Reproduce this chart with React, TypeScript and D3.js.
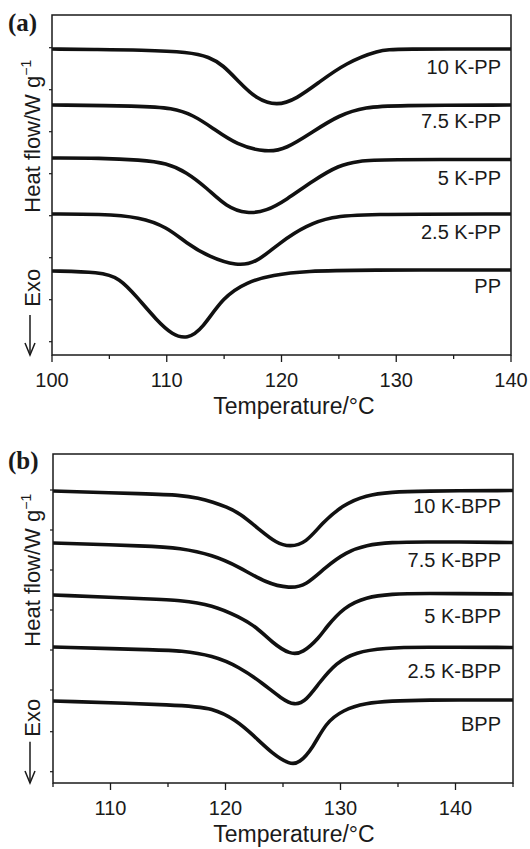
import React from "react";
import * as d3 from "d3";

// ---------- Data ----------
// Panel (a): temperature (°C) vs relative heat flow (arbitrary offset units)
const seriesNamesA = ["10 K-PP", "7.5 K-PP", "5 K-PP", "2.5 K-PP", "PP"];
const kpp10: [number, number][] = [
  [100, 30.6], [104, 30.55], [107.7, 30.5], [112, 30.3], [113.7, 29.8], [114.9, 29.0],
  [116.3, 27.3], [117.8, 25.6], [119.6, 24.9], [121.3, 25.6], [123.3, 27.3], [125.6, 29.2],
  [128.5, 30.5], [130, 30.6], [140, 30.6],
];
const kpp75: [number, number][] = [
  [100, 25.0], [107.7, 24.9], [110.5, 24.7], [112.3, 24.0], [114.0, 22.7], [116.1, 21.0],
  [118.7, 20.25], [120.4, 20.6], [122.7, 22.3], [125.0, 24.0], [127.4, 24.8], [129.7, 24.95],
  [140, 25.0],
];
const kpp5: [number, number][] = [
  [100, 19.7], [104.2, 19.7], [107.7, 19.5], [110, 19.2], [111.7, 18.3], [113.5, 16.7],
  [115.2, 14.8], [117.0, 14.1], [118.7, 14.4], [120.4, 15.5], [122.7, 17.4], [125.0, 19.0],
  [126.8, 19.4], [128.5, 19.55], [140, 19.55],
];
const kpp25: [number, number][] = [
  [100, 14.1], [104.2, 14.1], [107.7, 13.8], [110, 12.8], [111.7, 11.2], [113.7, 9.8],
  [116.1, 8.9], [117.8, 9.2], [119.8, 11.2], [122.2, 13.0], [124.4, 13.8], [126.8, 14.1],
  [140, 14.1],
];
const pp: [number, number][] = [
  [100, 8.4], [104.2, 8.3], [105.9, 7.7], [107.4, 5.8], [109.1, 3.5], [110.5, 2.0],
  [111.8, 1.6], [113.1, 2.6], [114.9, 5.8], [117.0, 7.3], [119.2, 8.0], [122.2, 8.4],
  [126.8, 8.5], [140, 8.5],
];

// Panel (b)
const seriesNamesB = ["10 K-BPP", "7.5 K-BPP", "5 K-BPP", "2.5 K-BPP", "BPP"];
const kbpp10: [number, number][] = [
  [105, 29.2], [113.4, 28.9], [116.0, 28.8], [117.7, 28.5], [118.9, 28.1], [120.1, 27.6],
  [121.2, 27.0], [123.0, 25.3], [124.4, 24.0], [125.6, 23.6], [127.0, 24.0], [128.4, 26.0],
  [130.2, 27.8], [132.2, 28.8], [134.5, 29.1], [136.8, 29.2], [145, 29.25],
];
const kbpp75: [number, number][] = [
  [105, 24.0], [113.4, 23.7], [116.0, 23.5], [118.9, 22.8], [121.2, 21.6], [123.5, 20.0],
  [125.6, 19.45], [127.0, 19.75], [128.7, 21.6], [130.5, 23.1], [132.2, 23.8], [134.5, 24.07],
  [136.8, 24.13], [145, 24.05],
];
const kbpp5: [number, number][] = [
  [105, 18.8], [113.4, 18.4], [116.0, 18.3], [118.9, 17.8], [121.2, 16.6], [122.7, 15.6],
  [124.1, 14.0], [125.6, 12.85], [126.7, 12.95], [128.2, 14.6], [128.7, 15.5], [130.3, 17.6],
  [132.2, 18.6], [134.5, 18.9], [136.8, 18.97], [145, 18.9],
];
const kbpp25: [number, number][] = [
  [105, 13.6], [114.3, 13.3], [116.0, 13.25], [118.9, 12.75], [121.2, 11.6], [123.2, 10.0],
  [124.9, 8.4], [126.0, 7.75], [127.0, 8.2], [128.2, 10.1], [129.6, 12.0], [131.3, 13.1],
  [133.9, 13.5], [136.8, 13.6], [145, 13.55],
];
const bpp: [number, number][] = [
  [105, 8.2], [116.3, 7.8], [118.9, 7.5], [120.9, 6.3], [122.4, 4.8], [124.1, 2.9],
  [125.6, 1.85], [126.4, 1.95], [127.6, 3.5], [128.7, 6.0], [130.2, 7.3], [132.2, 8.0],
  [134.5, 8.2], [136.8, 8.3], [145, 8.3],
];

const xTicksA = [100, 105, 110, 115, 120, 125, 130, 135, 140];
const xLabelsA = [100, 110, 120, 130, 140];
const xTicksB = [105, 110, 115, 120, 125, 130, 135, 140, 145];
const xLabelsB = [110, 120, 130, 140];
const yTicksA = [1.33, 5.53, 9.73, 13.93, 18.13, 22.33, 26.53, 30.73];
const yTicksB = [1.13, 5.13, 9.3, 13.3, 17.3, 21.3, 25.3, 29.3];

// ---------- Layout ----------
const FONT = "'Liberation Sans', Arial, Helvetica, sans-serif";

type PanelProps = {
  tag: string;
  x0: number; x1: number; y0: number; y1: number;
  xDomain: [number, number]; yDomain: [number, number];
  series: [number, number][][];
  names: string[];
  labelOffsets: number[];
  xTicks: number[]; xLabels: number[]; yTicks: number[];
  tagY: number;
  heatStart: number; exoStart: number; arrowTop: number;
};

function Panel(p: PanelProps) {
  const x = d3.scaleLinear().domain(p.xDomain).range([p.x0, p.x1]);
  const y = d3.scaleLinear().domain(p.yDomain).range([p.y1, p.y0]);
  const line = d3
    .line<[number, number]>()
    .x((d) => x(d[0]))
    .y((d) => y(d[1]))
    .curve(d3.curveBasis);
  const clipId = "clip-" + p.tag.replace(/[()]/g, "");
  const titleX = 294;
  return (
    <g>
      <defs>
        <clipPath id={clipId}>
          <rect x={p.x0} y={p.y0} width={p.x1 - p.x0} height={p.y1 - p.y0} />
        </clipPath>
      </defs>
      <g clipPath={`url(#${clipId})`}>
        {p.series.map((s, i) => (
          <path key={i} d={line(s) || ""} fill="none" stroke="#111" strokeWidth={3.6} strokeLinejoin="round" />
        ))}
      </g>
      {p.series.map((s, i) => (
        <text
          key={"l" + i}
          x={501}
          y={y(s[s.length - 1][1]) + p.labelOffsets[i]}
          textAnchor="end"
          fontFamily={FONT}
          fontSize={20}
          fill="#1a1a1a"
        >
          {p.names[i]}
        </text>
      ))}
      <rect x={p.x0} y={p.y0} width={p.x1 - p.x0} height={p.y1 - p.y0} fill="none" stroke="#1a1a1a" strokeWidth={1.5} />
      {p.xTicks.map((t) => {
        const major = p.xLabels.includes(t);
        return (
          <line key={"t" + t} x1={x(t)} x2={x(t)} y1={p.y1} y2={p.y1 + (major ? 7 : 4)} stroke="#1a1a1a" strokeWidth={1.3} />
        );
      })}
      {p.yTicks.map((t) => (
        <line key={"y" + t} x1={p.x0 - 3} x2={p.x0} y1={y(t)} y2={y(t)} stroke="#1a1a1a" strokeWidth={1.2} />
      ))}
      {p.xLabels.map((t) => (
        <text key={"xl" + t} x={x(t)} y={p.y1 + 32} textAnchor="middle" fontFamily={FONT} fontSize={20} fill="#1a1a1a">
          {t}
        </text>
      ))}
      <text x={titleX} y={p.y1 + 59} textAnchor="middle" fontFamily={FONT} fontSize={23} fill="#1a1a1a">
        Temperature/°C
      </text>
      <text x={8} y={p.tagY} fontFamily="'Liberation Serif', 'Times New Roman', serif" fontWeight="bold" fontSize={25} fill="#1a1a1a">
        {p.tag}
      </text>
      <text
        transform={`translate(40,${p.heatStart}) rotate(-90)`}
        fontFamily={FONT}
        fontSize={22}
        fill="#1a1a1a"
      >
        Heat flow/W g
        <tspan fontSize={14} dy={-9}>−1</tspan>
      </text>
      <text transform={`translate(40,${p.exoStart}) rotate(-90)`} fontFamily={FONT} fontSize={22} fill="#1a1a1a">
        Exo
      </text>
      <line x1={30} x2={30} y1={p.arrowTop} y2={p.y1} stroke="#1a1a1a" strokeWidth={1.5} />
      <polyline
        points={`25,${p.y1 - 12} 30,${p.y1} 35,${p.y1 - 12}`}
        fill="none"
        stroke="#1a1a1a"
        strokeWidth={1.5}
      />
    </g>
  );
}

export default function App() {
  return (
    <svg
      width={530}
      height={849}
      style={{ position: "absolute", left: 0, top: 0, background: "#fff" }}
    >
      <rect x={0} y={0} width={530} height={849} fill="#fff" />
      <Panel
        tag="(a)"
        x0={52} x1={511} y0={15} y1={355}
        xDomain={[100, 140]} yDomain={[0, 34]}
        series={[kpp10, kpp75, kpp5, kpp25, pp]}
        names={seriesNamesA}
        labelOffsets={[25, 23, 25, 25, 23]}
        xTicks={xTicksA} xLabels={xLabelsA} yTicks={yTicksA}
        tagY={31}
        heatStart={212.7} exoStart={306.7} arrowTop={315}
      />
      <Panel
        tag="(b)"
        x0={53} x1={513} y0={454} y1={783}
        xDomain={[105, 145]} yDomain={[0, 32.9]}
        series={[kbpp10, kbpp75, kbpp5, kbpp25, bpp]}
        names={seriesNamesB}
        labelOffsets={[22.7, 24, 29, 30, 30.7]}
        xTicks={xTicksB} xLabels={xLabelsB} yTicks={yTicksB}
        tagY={469}
        heatStart={646.7} exoStart={736.7} arrowTop={741.7}
      />
    </svg>
  );
}
